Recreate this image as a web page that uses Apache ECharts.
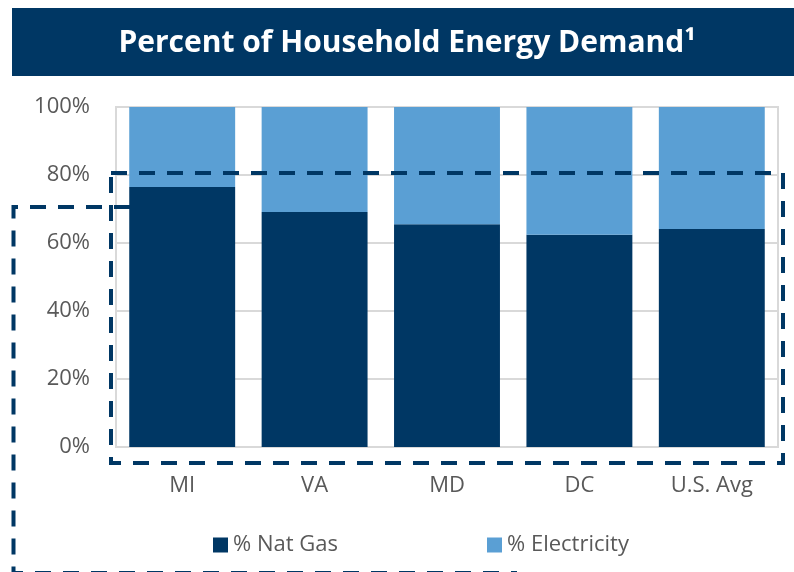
<!DOCTYPE html>
<html>
<head>
<meta charset="utf-8">
<script src="https://cdn.jsdelivr.net/npm/echarts@6/dist/echarts.min.js"></script>
<style>
html,body{margin:0;padding:0;background:#fff;}
#c{width:794px;height:572px;}
</style>
</head>
<body>
<div id="c"></div>
<script>
const categories = ['MI', 'VA', 'MD', 'DC', 'U.S. Avg'];
const natGas = [76.5, 69.1, 65.5, 62.4, 64.1];
const electricity = [23.5, 30.9, 34.5, 37.6, 35.9];
const yTicks = [0, 20, 40, 60, 80, 100];
const titleText = 'Percent of Household Energy Demand\u00B9';

const NAVY = '#003764';
const LIGHT = '#5A9FD4';
const GRAY = '#595959';
const FONT = '"Open Sans", "Noto Sans", sans-serif';

const chart = echarts.init(document.getElementById('c'), null, {renderer: 'canvas'});
chart.setOption({
  animation: false,
  backgroundColor: '#fff',
  grid: {left: 116, right: 16, top: 107, bottom: 125, show: true, borderColor: '#d9d9d9', borderWidth: 2},
  xAxis: {
    type: 'category',
    data: categories,
    axisLine: {show: true, lineStyle: {color: '#d9d9d9', width: 2}},
    axisTick: {show: false},
    axisLabel: {color: GRAY, fontSize: 22, fontFamily: FONT, margin: 28}
  },
  yAxis: {
    type: 'value',
    min: yTicks[0],
    max: yTicks[yTicks.length - 1],
    interval: 20,
    axisLine: {show: false},
    axisTick: {show: false},
    splitLine: {lineStyle: {color: '#d9d9d9', width: 2}},
    axisLabel: {color: GRAY, fontSize: 22, fontFamily: FONT, margin: 26, formatter: v => v + '%'}
  },
  legend: [
    {data: ['% Nat Gas'], left: 208, top: 529, itemWidth: 15, itemHeight: 15, icon: 'rect',
     textStyle: {color: GRAY, fontSize: 22, fontFamily: FONT}, itemGap: 6},
    {data: ['% Electricity'], left: 482, top: 529, itemWidth: 15, itemHeight: 15, icon: 'rect',
     textStyle: {color: GRAY, fontSize: 22, fontFamily: FONT}, itemGap: 6}
  ],
  series: [
    {name: '% Nat Gas', type: 'bar', stack: 's', data: natGas, barCategoryGap: '20%',
     itemStyle: {color: NAVY}},
    {name: '% Electricity', type: 'bar', stack: 's', data: electricity, barCategoryGap: '20%',
     itemStyle: {color: LIGHT}}
  ],
  graphic: [
    {type: 'rect', z: 1, shape: {x: 12, y: 8, width: 782, height: 68}, style: {fill: NAVY}},
    {type: 'text', z: 2, x: 407, y: 43, style: {text: titleText, fill: '#fff', font: 'bold 30px ' + FONT, textAlign: 'center', textVerticalAlign: 'middle'}},
    {type: 'rect', z: 100, shape: {x: 111, y: 173, width: 672, height: 290},
     style: {fill: null, stroke: NAVY, lineWidth: 4, lineDash: [16, 12]}},
    {type: 'polyline', z: 100, shape: {points: [[130, 207], [13.5, 207], [13.5, 573], [517, 573]]},
     style: {fill: null, stroke: NAVY, lineWidth: 4, lineDash: [16, 12]}}
  ]
});
</script>
</body>
</html>
